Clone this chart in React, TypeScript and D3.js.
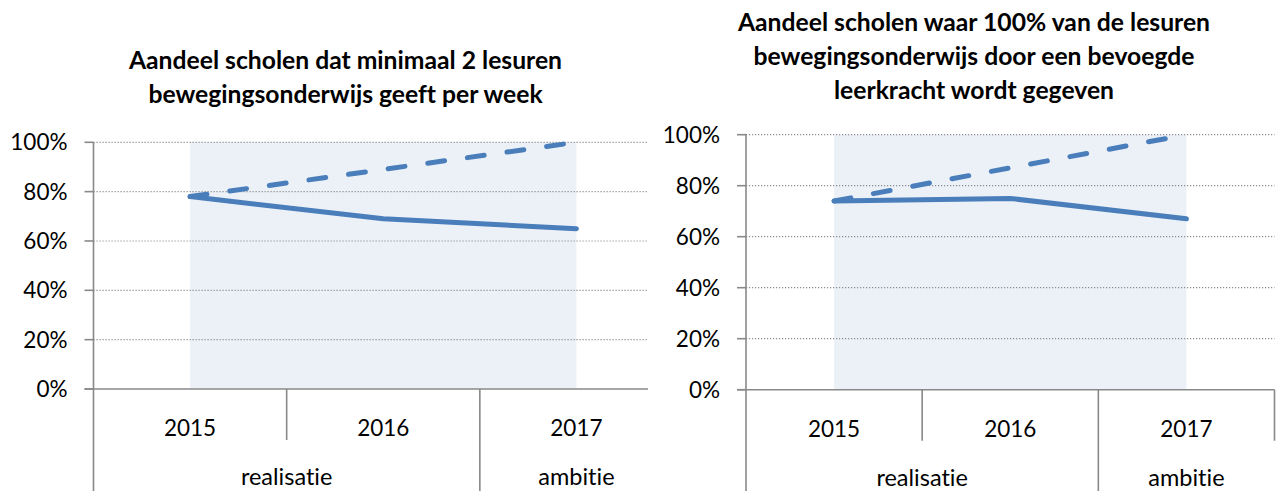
import React from "react";
import * as d3 from "d3";

// categories and groups on the x axis
const categories = ["2015", "2016", "2017"];
const groups = [
  { label: "realisatie", from: "2015", to: "2016" },
  { label: "ambitie", from: "2017", to: "2017" },
];
const yTicks = [0, 0.2, 0.4, 0.6, 0.8, 1];

// shaded background series (100%)
const bandValues = [1, 1, 1];

// chart 1: minimaal 2 lesuren
const title1 = ["Aandeel scholen dat minimaal 2 lesuren", "bewegingsonderwijs geeft per week"];
const actual1 = [0.78, 0.69, 0.65];
const target1 = [0.78, 0.89, 1.0];

// chart 2: bevoegde leerkracht
const title2 = [
  "Aandeel scholen waar 100% van de lesuren",
  "bewegingsonderwijs door een bevoegde",
  "leerkracht wordt gegeven",
];
const actual2 = [0.74, 0.75, 0.67];
const target2 = [0.74, 0.87, 1.0];

const W = 1277;
const H = 491;
const FONT = "Lato, 'Noto Sans', 'DejaVu Sans', sans-serif";
const BLUE = "#4A7EBB";
const AXIS = "#898989";
const textStyle = { fontVariantLigatures: "none" as const };

type Props = {
  left: number;
  right: number;
  top: number;
  bottom: number;
  cover?: number;
  titleLines: string[];
  titleX: number;
  titleY: number;
  actual: number[];
  target: number[];
};

const LineChart = ({ left, right, top, bottom, cover, titleLines, titleX, titleY, actual, target }: Props) => {
  const x = d3.scaleBand().domain(categories).range([left, right]).paddingInner(0).paddingOuter(0);
  const y = d3.scaleLinear().domain([0, 1]).range([bottom, top]);
  const cx = (c: string) => (x(c) as number) + x.bandwidth() / 2;

  const line = d3
    .line<number>()
    .x((_, i) => cx(categories[i]))
    .y((d) => y(d));
  const area = d3
    .area<number>()
    .x((_, i) => cx(categories[i]))
    .y0(y(0))
    .y1((d) => y(d));

  const fmt = d3.format(".0%");
  const groupStarts = groups.map((g) => x(g.from) as number);

  return (
    <g>
      {cover !== undefined && <rect x={cover} y={0} width={W - cover} height={H} fill="#fff" />}

      {/* title */}
      <text fontFamily={FONT} fontWeight="bold" fontSize={24.7} textAnchor="middle" fill="#000" style={textStyle}>
        {titleLines.map((t, i) => (
          <tspan key={i} x={titleX} y={titleY + i * 34}>
            {t}
          </tspan>
        ))}
      </text>

      {/* background band */}
      <path d={area(bandValues) || ""} fill="#ECF1F8" />

      {/* gridlines */}
      {yTicks
        .filter((t) => t > 0)
        .map((t) => (
          <line
            key={t}
            x1={left}
            x2={right}
            y1={y(t)}
            y2={y(t)}
            stroke="#8c8c8c"
            strokeWidth={1.2}
            strokeDasharray="1.2 1.8"
          />
        ))}

      {/* y axis */}
      <line x1={left} x2={left} y1={top} y2={H} stroke={AXIS} strokeWidth={1.6} />
      {yTicks.map((t) => (
        <g key={t}>
          <line x1={left - 9} x2={left} y1={y(t)} y2={y(t)} stroke={AXIS} strokeWidth={1.6} />
          <text
            x={left - 26}
            y={y(t) + 8}
            textAnchor="end"
            fontFamily={FONT}
            fontSize={22.5}
            fill="#000"
            style={textStyle}
          >
            {fmt(t)}
          </text>
        </g>
      ))}

      {/* x axis */}
      <line x1={left - 9} x2={right} y1={bottom} y2={bottom} stroke={AXIS} strokeWidth={1.6} />
      {categories.map((c) => {
        const x0 = x(c) as number;
        if (x0 === left) return null;
        const full = groupStarts.includes(x0);
        return (
          <line key={c} x1={x0} x2={x0} y1={bottom} y2={full ? H : bottom + 51} stroke={AXIS} strokeWidth={1.6} />
        );
      })}
      <line x1={right} x2={right} y1={bottom} y2={bottom + 51} stroke={AXIS} strokeWidth={1.6} />
      {categories.map((c) => (
        <text
          key={c}
          x={cx(c)}
          y={bottom + 47}
          textAnchor="middle"
          fontFamily={FONT}
          fontSize={22.5}
          fill="#000"
          style={textStyle}
        >
          {c}
        </text>
      ))}
      {groups.map((g) => {
        const gx = ((x(g.from) as number) + (x(g.to) as number) + x.bandwidth()) / 2;
        return (
          <text
            key={g.label}
            x={gx}
            y={bottom + 96}
            textAnchor="middle"
            fontFamily={FONT}
            fontSize={23.5}
            fill="#000"
            style={textStyle}
          >
            {g.label}
          </text>
        );
      })}

      {/* series */}
      <path
        d={line(target) || ""}
        fill="none"
        stroke={BLUE}
        strokeWidth={5}
        strokeLinecap="round"
        strokeDasharray="17 23"
      />
      <path d={line(actual) || ""} fill="none" stroke={BLUE} strokeWidth={5} strokeLinecap="round" strokeLinejoin="round" />
    </g>
  );
};

export default function App() {
  return (
    <svg width={W} height={H} style={{ position: "absolute", left: 0, top: 0, background: "#fff" }}>
      <rect width={W} height={H} fill="#fff" />
      <LineChart
        left={93.5}
        right={673}
        top={142.3}
        bottom={389}
        titleLines={title1}
        titleX={345.5}
        titleY={69}
        actual={actual1}
        target={target1}
      />
      <LineChart
        left={746}
        right={1274.5}
        top={134.7}
        bottom={389.7}
        cover={648}
        titleLines={title2}
        titleX={974}
        titleY={30.5}
        actual={actual2}
        target={target2}
      />
    </svg>
  );
}
